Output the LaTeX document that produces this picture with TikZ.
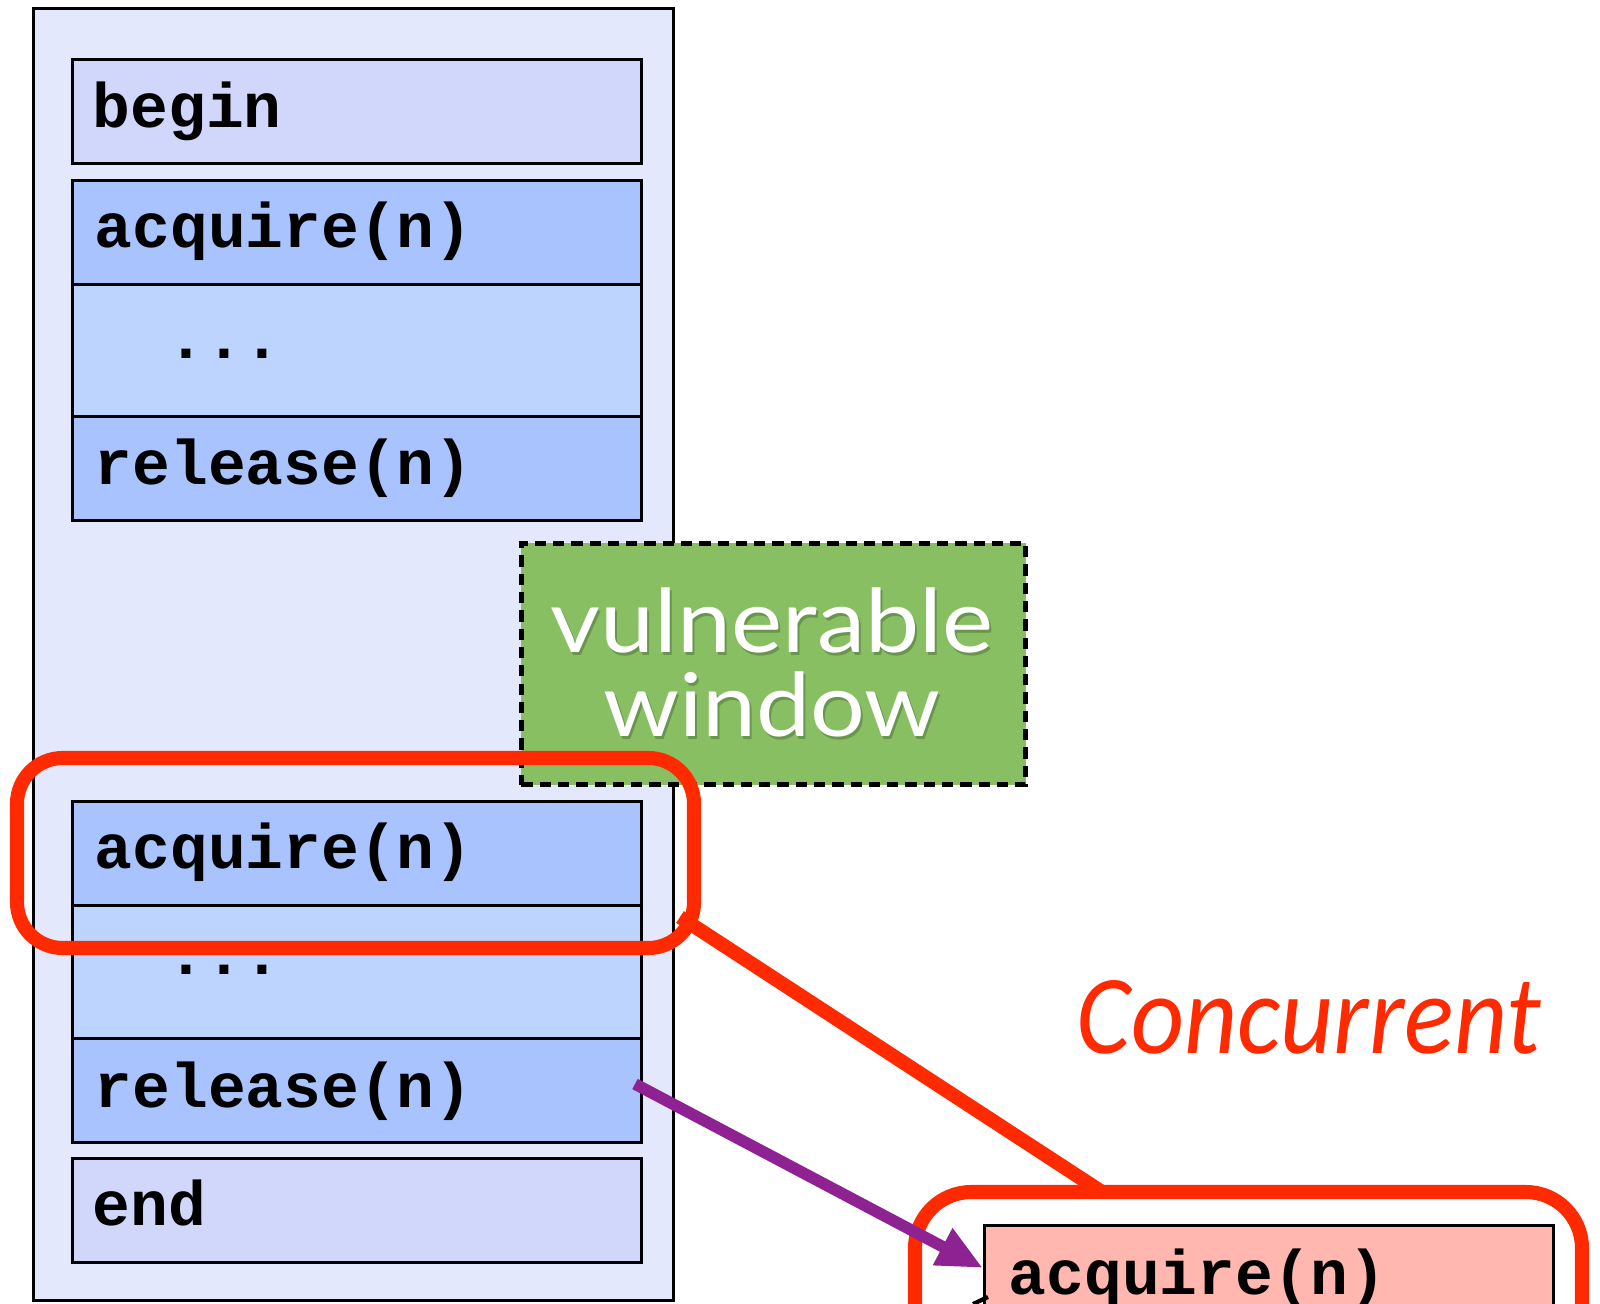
\documentclass[tikz,border=0pt]{standalone}
\usepackage{fontspec}
\usepackage{graphicx}
\setmonofont{Liberation Mono}
\newfontfamily\humfont{Lato}
\newfontfamily\itfont{Carlito}
\usetikzlibrary{arrows.meta}

\definecolor{threadfill}{HTML}{E3E8FC}
\definecolor{endsfill}{HTML}{D0D7FB}
\definecolor{lockfill}{HTML}{A8C3FE}
\definecolor{bodyfill}{HTML}{BCD4FE}
\definecolor{windowgreen}{HTML}{88BF63}
\definecolor{alertred}{HTML}{FF2A00}
\definecolor{arrowpurple}{HTML}{8F2292}
\definecolor{otherfill}{HTML}{FFB7AF}

\tikzset{
  cell/.style={draw=black, line width=0.85pt, rectangle, inner sep=0pt, anchor=north west},
  code/.style={anchor=base west, inner sep=0pt,
    font=\fontsize{17.9}{20}\selectfont\ttfamily\bfseries},
  vwtext/.style={inner sep=0pt, anchor=base, text=white,
    font=\fontsize{25}{28}\selectfont\humfont},
  vwshadow/.style={vwtext, text=black, opacity=0.22},
  redframe/.style={draw=alertred, line width=4pt, rounded corners=13pt},
  redlink/.style={draw=alertred, line width=4pt},
  purplelink/.style={draw=arrowpurple, line width=3.3pt,
    -{Triangle[length=13pt,width=11pt]}},
}
\newcommand{\widetext}[1]{\scalebox{1.1}[1]{#1}}

\begin{document}
\begin{tikzpicture}[x=0.01cm, y=-0.01cm]
\useasboundingbox (0,0) rectangle (1600,1304);

% thread column
\node[cell, line width=0.8pt, fill=threadfill, minimum width=6.40cm, minimum height=12.91cm] (thread) at (32,7) {};

% first critical section
\node[cell, fill=endsfill, minimum width=5.69cm, minimum height=1.04cm] (begin) at (71,58) {};
\node[cell, fill=lockfill, minimum width=5.69cm, minimum height=1.04cm] (acqA) at (71,179) {};
\node[cell, fill=bodyfill, minimum width=5.69cm, minimum height=1.32cm] (bodyA) at (71,283) {};
\node[cell, fill=lockfill, minimum width=5.69cm, minimum height=1.04cm] (relA) at (71,415) {};

% second critical section
\node[cell, fill=lockfill, minimum width=5.69cm, minimum height=1.04cm] (acqB) at (71,800) {};
\node[cell, fill=bodyfill, minimum width=5.69cm, minimum height=1.33cm] (bodyB) at (71,904) {};
\node[cell, fill=lockfill, minimum width=5.69cm, minimum height=1.04cm] (relB) at (71,1037) {};
\node[cell, fill=endsfill, minimum width=5.69cm, minimum height=1.04cm] (end) at (71,1157) {};

\node[code] (tBegin) at (92,128) {begin};
\node[code] (tAcqA) at (94,248) {acquire(n)};
\node[code] (tBodyA) at (167,359) {...};
\node[code] (tRelA) at (94,485) {release(n)};
\node[code] (tAcqB) at (94,869) {acquire(n)};
\node[code] (tBodyB) at (167,975) {...};
\node[code] (tRelB) at (94,1107) {release(n)};
\node[code] (tEnd) at (92,1225) {end};

% vulnerable window marker
\node[cell, draw=black, line width=1.4pt, dash pattern=on 3.2pt off 2pt,
      fill=windowgreen, minimum width=5.04cm, minimum height=2.41cm] (window) at (519,541) {};
\node[vwshadow] at (774,656) {\widetext{vulnerable}};
\node[vwshadow] at (774,740) {\widetext{window}};
\node[vwtext] (vw1) at (772,653) {\widetext{vulnerable}};
\node[vwtext] (vw2) at (772,737) {\widetext{window}};

% highlight around the second acquire
\draw[redframe] (17,758) rectangle (694,948);
\coordinate (hlCorner) at (680,917);

% the other thread's acquire
\node[cell, fill=otherfill, minimum width=5.69cm, minimum height=1.0cm] (acqC) at (983,1224) {};
\node[code] (tAcqC) at (1008,1294) {acquire(n)};
\draw[redframe, rounded corners=16pt] (915,1330) -- (915,1192) -- (1582,1192) -- (1582,1330);
\coordinate (frameTop) at (1102,1192);

\draw[redlink] (hlCorner) -- (frameTop);

\node[anchor=base, inner sep=0pt, text=alertred,
      font=\fontsize{32}{36}\selectfont\itfont\itshape] (conc) at (1309,1053)
      {\scalebox{0.92}[1]{Concurrent}};

% release of the first thread handing over to the other thread
\coordinate (relOut) at (635,1084);
\coordinate (acqIn) at (983,1268);
\draw[purplelink] (relOut) -- (acqIn);

% tip of an incoming connector at the lower edge
\draw[line width=1.2pt] (988,1297) -- (973,1304);
\end{tikzpicture}
\end{document}
